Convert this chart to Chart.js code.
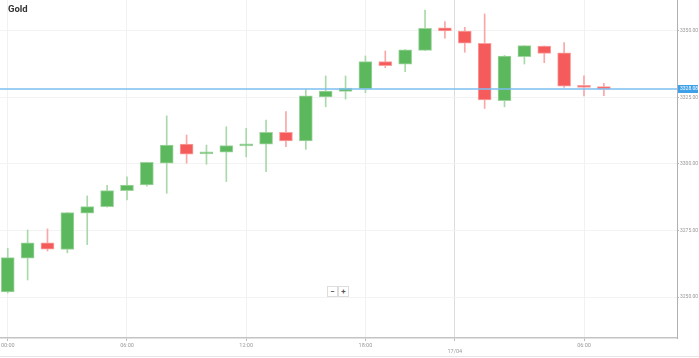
<!DOCTYPE html>
<html>
<head>
<meta charset="utf-8">
<script src="https://cdn.jsdelivr.net/npm/chart.js@4/dist/chart.umd.min.js"></script>
<style>
html,body{margin:0;padding:0;background:#fff;}
#wrap{position:relative;width:699px;height:358px;overflow:hidden;}
#title{position:absolute;left:8px;top:3px;font:bold 9.5px Roboto, "Open Sans", sans-serif;color:#333;}
.zb{position:absolute;top:286px;width:9px;height:9px;border:1px solid #ddd;background:#fff;font:bold 8px/9px Roboto, sans-serif;color:#555;text-align:center;}
#foot{position:absolute;left:0;top:356px;width:699px;height:0;border-top:1px solid #e6e6e6;}
</style>
</head>
<body>
<div id="wrap">
<canvas id="c" width="699" height="358"></canvas>
<div id="title">Gold</div>
<div class="zb" style="left:327px">−</div>
<div class="zb" style="left:338px">+</div>
<div id="foot"></div>
</div>
<script>
// hourly candle index (0 = 00:00)
const candleIndex = [0,1,2,3,4,5,6,7,8,9,10,11,12,13,14,15,16,17,18,19,20,21,22,23,24,25,26,27,28,29,30];
const openVals  = [3251.9,3264.6,3270.4,3267.9,3281.5,3284.0,3290.0,3292.1,3300.3,3307.5,3303.8,3304.4,3306.8,3307.5,3311.9,3308.7,3325.2,3327.3,3328.2,3338.5,3337.5,3342.7,3351.2,3350.0,3345.4,3323.8,3340.3,3344.3,3341.8,3329.6,3329.1];
const highVals  = [3268.3,3275.2,3275.6,3281.8,3288.0,3292.0,3295.2,3300.7,3318.1,3310.9,3307.1,3314.0,3313.4,3316.5,3319.7,3328.1,3333.1,3333.1,3340.6,3342.5,3343.0,3357.9,3353.5,3351.4,3356.4,3340.8,3344.5,3344.4,3345.6,3333.1,3330.3];
const lowVals   = [3251.5,3256.4,3267.3,3266.6,3269.7,3283.8,3286.5,3291.7,3289.0,3300.3,3299.9,3293.4,3302.7,3297.1,3306.5,3305.5,3321.5,3324.4,3326.8,3336.2,3334.7,3342.6,3347.3,3342.0,3320.9,3321.5,3337.6,3338.1,3328.8,3325.6,3325.7];
const closeVals = [3264.8,3270.4,3268.0,3281.7,3284.0,3290.0,3292.1,3300.6,3307.1,3303.7,3304.4,3306.9,3307.5,3311.9,3308.7,3325.6,3327.4,3328.5,3338.5,3337.0,3342.9,3351.0,3350.0,3345.4,3324.1,3340.6,3344.5,3341.6,3329.3,3328.8,3328.1];
const xTickPos    = [0, 6, 12, 18, 22.5, 29];
const xTickLabels = ['00:00', '06:00', '12:00', '18:00', ['', '17/04'], '06:00'];
const yTickVals   = [3250, 3275, 3300, 3325, 3350];
const currentPrice = 3328.08;

const GREEN = '#5cb85c', RED = '#f65b5b';
const GREEN_W = '#a9d9a9', RED_W = '#f9a7a7';
const isUp = i => closeVals[i] >= openVals[i];

const bodies = candleIndex.map((x, i) => ({x: x, y: [openVals[i], closeVals[i]]}));
const wicks  = candleIndex.map((x, i) => ({x: x, y: [lowVals[i], highVals[i]]}));

const priceLine = {
  id: 'priceLine',
  afterDatasetsDraw(chart) {
    const {ctx, chartArea, scales} = chart;
    const y = Math.round(scales.y.getPixelForValue(currentPrice));
    ctx.save();
    ctx.strokeStyle = '#7cbff2';
    ctx.lineWidth = 1.4;
    ctx.beginPath();
    ctx.moveTo(chartArea.left, y);
    ctx.lineTo(chartArea.right, y);
    ctx.stroke();
    ctx.fillStyle = '#3fa0ea';
    ctx.fillRect(chartArea.right + 1, y - 4, 20, 8);
    ctx.fillStyle = '#fff';
    ctx.font = '5px Roboto, sans-serif';
    ctx.textBaseline = 'middle';
    ctx.textAlign = 'left';
    ctx.fillText(currentPrice.toFixed(2), chartArea.right + 3, y);
    ctx.restore();
  }
};

new Chart(document.getElementById('c'), {
  type: 'bar',
  data: {
    datasets: [
      {
        label: 'wick',
        data: wicks,
        order: 2,
        grouped: false,
        barThickness: 1,
        backgroundColor: ctx => isUp(ctx.dataIndex) ? GREEN_W : RED_W,
        borderWidth: 0
      },
      {
        label: 'body',
        data: bodies,
        order: 1,
        grouped: false,
        barThickness: 13,
        minBarLength: 2,
        backgroundColor: ctx => isUp(ctx.dataIndex) ? GREEN : RED,
        borderColor: ctx => isUp(ctx.dataIndex) ? '#9fd49f' : '#f9a0a0',
        borderWidth: 1,
        borderSkipped: false
      }
    ]
  },
  options: {
    responsive: false,
    animation: false,
    layout: {padding: 0},
    plugins: {legend: {display: false}, tooltip: {enabled: false}, title: {display: false}},
    scales: {
      x: {
        type: 'linear',
        min: -0.39,
        max: 33.68,
        offset: false,
        afterBuildTicks: s => { s.ticks = xTickPos.map(v => ({value: v})); },
        afterFit: s => { s.height = 20; s.paddingLeft = 0; s.paddingRight = 0; },
        ticks: {
          autoSkip: false,
          maxRotation: 0,
          padding: 1,
          color: '#999',
          font: {family: 'Roboto', size: 5.5},
          callback: (v) => { const k = xTickPos.indexOf(v); return k >= 0 ? xTickLabels[k] : ''; }
        },
        grid: {
          offset: false,
          color: c => (c.tick && c.tick.value === 22.5) ? '#dcdcdc' : '#f1f1f1',
          tickLength: 3,
          tickColor: '#bbb'
        },
        border: {display: true, color: '#c4c4c4', width: 1.5}
      },
      y: {
        position: 'right',
        min: 3234.59,
        max: 3361.65,
        afterBuildTicks: s => { s.ticks = yTickVals.map(v => ({value: v})); },
        afterFit: s => { s.width = 22; s.paddingTop = 0; s.paddingBottom = 0; },
        ticks: {
          padding: 1,
          color: '#999',
          font: {family: 'Roboto', size: 5},
          callback: v => Number(v).toFixed(2)
        },
        grid: {color: '#f3f3f3', tickLength: 2, tickColor: '#bbb'},
        border: {display: true, color: '#b0b0b0', width: 1}
      }
    }
  },
  plugins: [priceLine]
});
</script>
</body>
</html>
